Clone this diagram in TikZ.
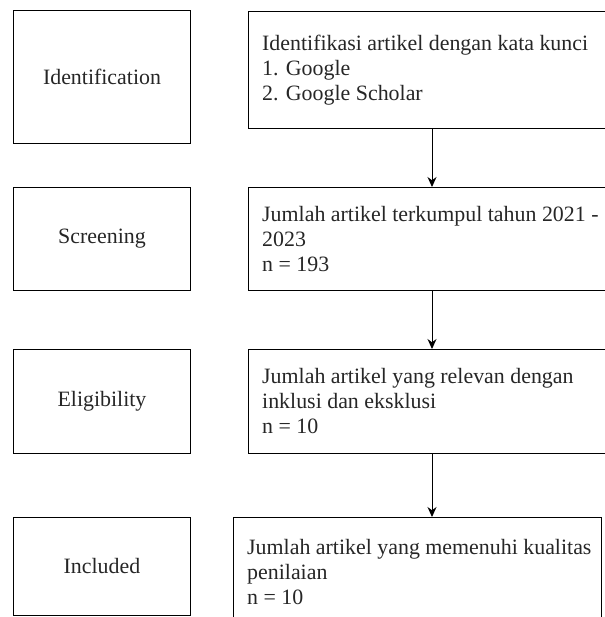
\documentclass[tikz,border=0pt]{standalone}
\usepackage{fontspec}
\setmainfont{Liberation Serif}
\usetikzlibrary{arrows.meta}

\begin{document}
\begin{tikzpicture}[>={Stealth[length=10pt,width=9pt]}, x=1pt, y=-1pt,
    every node/.style={font=\fontsize{21.9}{25}\selectfont, text=black!85},
    stage/.style={draw, line width=1pt, minimum width=177pt, anchor=north west, inner sep=0pt},
    box/.style={draw, line width=1pt, minimum width=380pt, anchor=north west, inner sep=0pt},
    txt/.style={anchor=west, align=left, inner sep=0pt}]
    \useasboundingbox (0,0) rectangle (604,617);

    % Stages {Identification, Screening, Eligibility, Included}
    \node [stage, minimum height=133pt]		(s1) at (13,10)		{Identification};
    \node [stage, minimum height=103pt]		(s2) at (13,187)	{Screening};
    \node [stage, minimum height=104pt]		(s3) at (13,349)	{Eligibility};
    \node [stage, minimum height=98pt]		(s4) at (13,517)	{Included};

    % Boxes {b1, b2, b3, b4}
    \node [box, minimum height=117pt]		(b1) at (248,11)	{};
    \node [box, minimum height=103pt]		(b2) at (248,187)	{};
    \node [box, minimum height=104pt]		(b3) at (248,349)	{};
    \node [box, minimum height=110pt, minimum width=368pt]	(b4) at (233,517)	{};

    % Texts
    \node [txt]	(t1) at ([xshift=14pt]b1.west)	{Identifikasi artikel dengan kata kunci\\1. Google\\2. Google Scholar};
    \node [txt]	(t2) at ([xshift=14pt]b2.west)	{Jumlah artikel terkumpul tahun 2021 -\\2023\\n = 193};
    \node [txt]	(t3) at ([xshift=14pt]b3.west)	{Jumlah artikel yang relevan dengan\\inklusi dan eksklusi\\n = 10};
    \node [txt]	(t4) at ([xshift=14pt]b4.west)	{Jumlah artikel yang memenuhi kualitas\\penilaian\\n = 10};

    % Paths
    \coordinate (ax) at (432,0);
    \path [->, line width=1pt]	(b1.south -| ax) edge	(b2.north -| ax);
    \path [->, line width=1pt]	(b2.south -| ax) edge	(b3.north -| ax);
    \path [->, line width=1pt]	(b3.south -| ax) edge	(b4.north -| ax);

\end{tikzpicture}
\end{document}
